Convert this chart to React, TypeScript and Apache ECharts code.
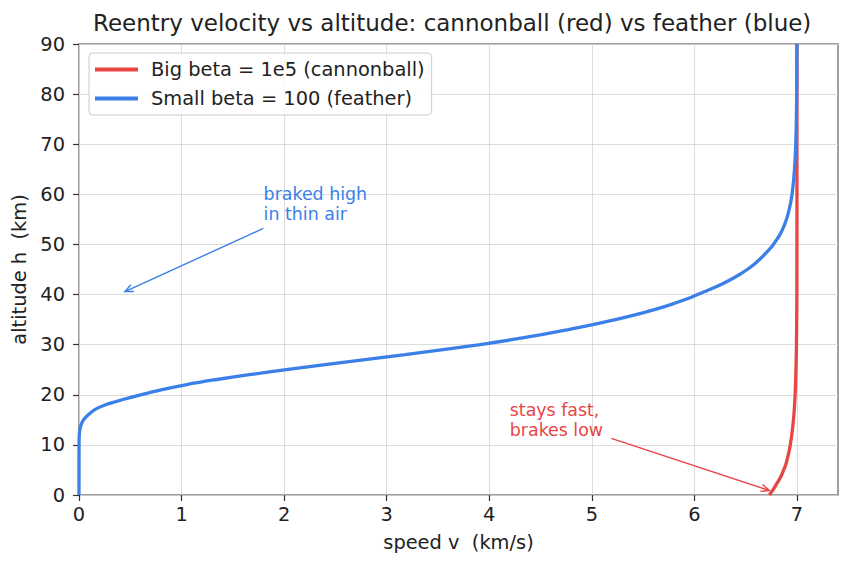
import React, { useEffect, useRef } from "react";
import * as echarts from "echarts";

const titleText = "Reentry velocity vs altitude: cannonball (red) vs feather (blue)";
const xTicks = [0, 1, 2, 3, 4, 5, 6, 7];
const yTicks = [0, 10, 20, 30, 40, 50, 60, 70, 80, 90];

// Big beta (cannonball): altitude (km) -> speed (km/s)
const hRed = [0, 1, 2, 3, 4, 5, 6, 8, 10, 13, 16, 20, 25, 30, 40, 60, 90];
const vRed = [6.73, 6.765, 6.795, 6.825, 6.85, 6.87, 6.89, 6.915, 6.935, 6.955, 6.97, 6.982, 6.99, 6.995, 6.999, 7.0, 7.0];

// Small beta (feather)
const hBlue = [0, 10, 12, 13, 14, 15, 16, 17, 18, 19, 20, 21, 22, 23, 24, 25, 26, 27, 28, 29, 30, 31, 32, 33, 34, 35, 36, 37, 38, 39, 40, 41, 42, 43, 44, 45, 46, 47, 48, 49, 50, 52, 54, 56, 58, 60, 63, 66, 70, 75, 80, 90];
const vBlue = [0, 0.0005, 0.003, 0.008, 0.02, 0.045, 0.09, 0.15, 0.26, 0.42, 0.6, 0.8, 1.04, 1.33, 1.66, 2.02, 2.4, 2.79, 3.18, 3.55, 3.91, 4.22, 4.51, 4.77, 5.01, 5.23, 5.43, 5.61, 5.77, 5.91, 6.03, 6.15, 6.26, 6.355, 6.44, 6.515, 6.58, 6.635, 6.685, 6.73, 6.77, 6.835, 6.88, 6.912, 6.935, 6.952, 6.968, 6.979, 6.988, 6.994, 6.997, 7.0];

const RED = "#e84545";
const BLUE = "#3b7fe8";
const FONT = "DejaVu Sans";

const annotations = [
  { text: "braked high\nin thin air", at: [1.8, 55], from: [1.797, 53.2], to: [0.448, 40.6], color: BLUE },
  { text: "stays fast,\nbrakes low", at: [4.2, 12], from: [5.19, 11.3], to: [6.73, 0.9], color: RED },
];

export default function App() {
  const ref = useRef<HTMLDivElement>(null);
  useEffect(() => {
    if (!ref.current) return;
    const chart = echarts.init(ref.current, null, { renderer: "svg" });
    const redData = hRed.map((h, i) => [vRed[i], h]);
    const blueData = hBlue.map((h, i) => [vBlue[i], h]);
    chart.setOption({
      animation: false,
      backgroundColor: "#fff",
      title: {
        text: titleText,
        left: 93,
        top: 11,
        padding: 0,
        textStyle: { fontFamily: FONT, fontSize: 23, fontWeight: "normal", color: "#222" },
      },
      legend: {
        orient: "vertical",
        left: 89,
        top: 53,
        padding: [7, 7, 7, 6],
        itemWidth: 43,
        itemHeight: 4,
        itemGap: 10,
        icon: "rect",
        backgroundColor: "rgba(255,255,255,0.85)",
        borderColor: "#cccccc",
        borderWidth: 1,
        borderRadius: 4,
        textStyle: { fontFamily: FONT, fontSize: 19.4, color: "#222", padding: [0, 0, 0, 8] },
        data: ["Big beta = 1e5 (cannonball)", "Small beta = 100 (feather)"],
      },
      grid: {
        left: 79,
        right: 14,
        top: 44,
        bottom: 74,
        show: true,
        borderColor: "#808080",
        borderWidth: 1.5,
        backgroundColor: "transparent",
      },
      xAxis: {
        type: "value",
        min: 0,
        max: 7.4,
        interval: 1,
        name: "speed v  (km/s)",
        nameLocation: "middle",
        nameGap: 38,
        nameTextStyle: { fontFamily: FONT, fontSize: 19.4, color: "#222" },
        axisLine: { show: false },
        axisTick: { show: true, length: 6, lineStyle: { color: "#333", width: 1.2 }, customValues: xTicks },
        axisLabel: { fontFamily: FONT, fontSize: 19.4, color: "#222", margin: 10, customValues: xTicks },
        splitLine: { show: true, lineStyle: { color: "#d4d4d4", width: 0.8 } },
      },
      yAxis: {
        type: "value",
        min: 0,
        max: 90,
        interval: 10,
        name: "altitude h  (km)",
        nameLocation: "middle",
        nameGap: 49,
        nameTextStyle: { fontFamily: FONT, fontSize: 19.4, color: "#222" },
        axisLine: { show: false },
        axisTick: { show: true, length: 6, lineStyle: { color: "#333", width: 1.2 } },
        axisLabel: { fontFamily: FONT, fontSize: 19.4, color: "#222", margin: 14, customValues: yTicks },
        splitLine: { show: true, lineStyle: { color: "#d4d4d4", width: 0.8 } },
      },
      series: [
        {
          name: "Big beta = 1e5 (cannonball)",
          type: "line",
          data: redData,
          showSymbol: false,
          symbol: "none",
          smooth: 0.3,
          lineStyle: { color: RED, width: 3.3 },
          itemStyle: { color: RED },
          clip: true,
        },
        {
          name: "Small beta = 100 (feather)",
          type: "line",
          data: blueData,
          showSymbol: false,
          symbol: "none",
          smooth: 0.3,
          lineStyle: { color: BLUE, width: 3.3 },
          itemStyle: { color: BLUE },
          clip: true,
        },
      ],
    });

    const px = (p: number[]) => chart.convertToPixel({ gridIndex: 0 }, p) as number[];
    const graphics: any[] = [];
    annotations.forEach((a) => {
      const t = px(a.at);
      graphics.push({
        type: "text",
        x: t[0],
        y: t[1] + 5,
        z: 100,
        style: {
          text: a.text,
          fill: a.color,
          font: `17.4px "${FONT}"`,
          lineHeight: 20,
          textAlign: "left",
          textVerticalAlign: "bottom",
        },
      });
      const s = px(a.from);
      const e = px(a.to);
      graphics.push({
        type: "line",
        z: 100,
        shape: { x1: s[0], y1: s[1], x2: e[0], y2: e[1] },
        style: { stroke: a.color, lineWidth: 1.4 },
      });
      const ang = Math.atan2(s[1] - e[1], s[0] - e[0]);
      const L = 9;
      const w = 0.42;
      graphics.push({
        type: "polyline",
        z: 100,
        shape: {
          points: [
            [e[0] + L * Math.cos(ang + w), e[1] + L * Math.sin(ang + w)],
            [e[0], e[1]],
            [e[0] + L * Math.cos(ang - w), e[1] + L * Math.sin(ang - w)],
          ],
        },
        style: { stroke: a.color, lineWidth: 1.4, fill: "none" },
      });
    });
    chart.setOption({ graphic: graphics });

    return () => chart.dispose();
  }, []);
  return <div ref={ref} style={{ position: "fixed", left: 0, top: 0, width: 852, height: 569 }} />;
}
